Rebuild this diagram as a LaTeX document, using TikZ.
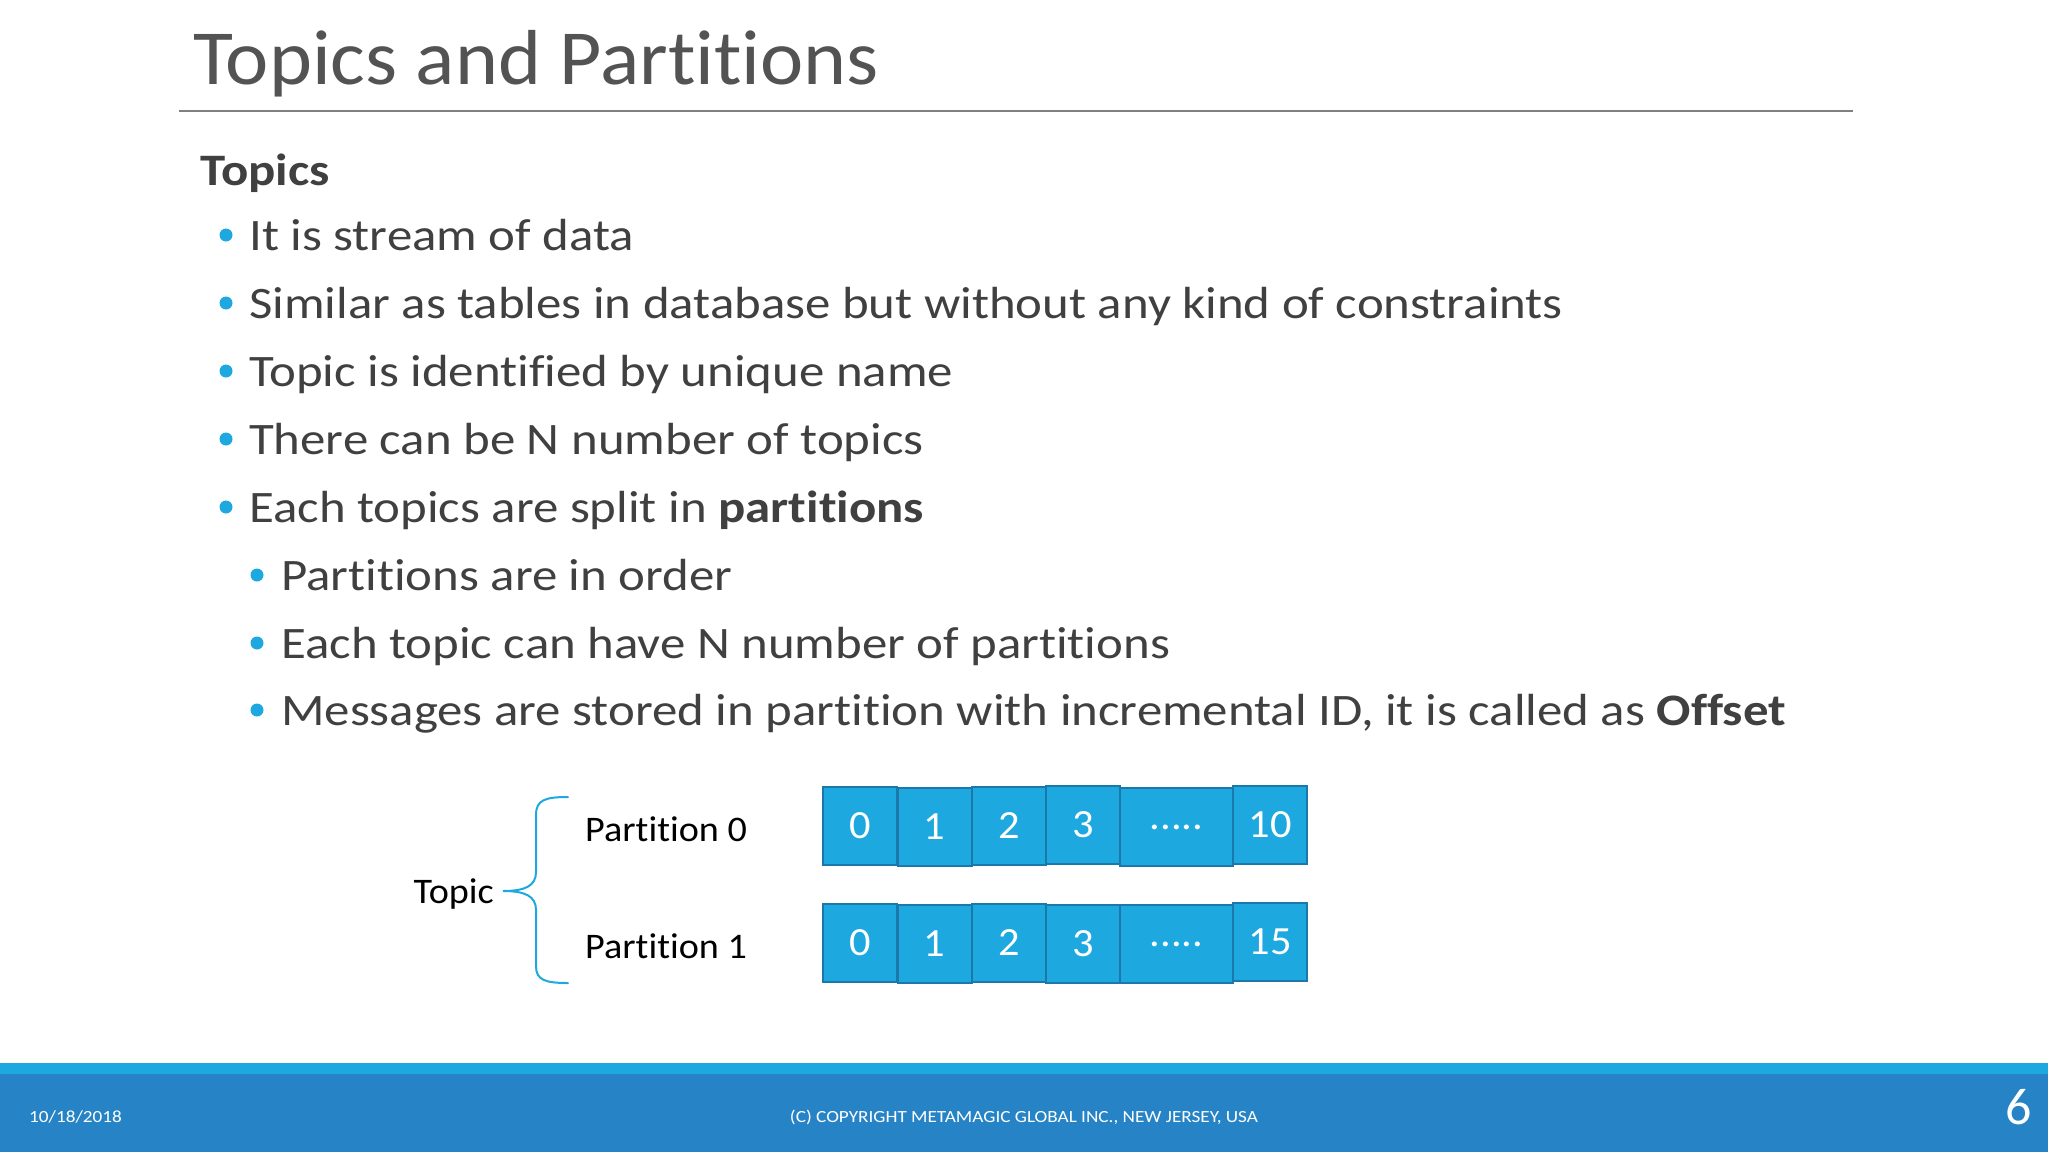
\documentclass[tikz,border=0pt]{standalone}
\usepackage{fontspec}
\setmainfont[Ligatures=NoCommon]{Carlito}
\newfontfamily\bodyf[FakeStretch=1.13,Ligatures=NoCommon]{Carlito}
\newfontfamily\titlef[FakeStretch=1.05,Ligatures=NoCommon]{Carlito}
\newfontfamily\labf[FakeStretch=1.06,Ligatures=NoCommon]{Carlito}
\newfontfamily\footf[FakeStretch=1.13]{Carlito}
\definecolor{cyanb}{RGB}{29,168,224}
\definecolor{boxb}{RGB}{26,120,170}
\definecolor{foot}{RGB}{38,132,198}
\definecolor{txt}{RGB}{64,64,64}
\tikzset{
  cell/.style={draw=boxb,line width=2pt,fill=cyanb,text=white,minimum height=78pt,inner sep=0pt,font=\labf\fontsize{40}{40}\selectfont},
  btext/.style={anchor=base west,text=txt,inner sep=0pt,font=\bodyf\fontsize{45}{50}\selectfont},
  dot/.style={circle,fill=cyanb,inner sep=0pt,minimum size=13pt},
  lab/.style={anchor=base west,inner sep=0pt,font=\labf\fontsize{36}{40}\selectfont}
}
\begin{document}
\begin{tikzpicture}[x=1pt,y=-1pt]
\useasboundingbox (0,0) rectangle (2048,1152);
\fill[white] (0,0) rectangle (2048,1152);
% title
\node[anchor=base west,inner sep=0pt,text=txt!90,font=\titlef\fontsize{78}{80}\selectfont] (title) at (193,84) {Topics and Partitions};
\draw[gray,line width=1.2pt] (179,111) -- (1853,111);
\node[anchor=base west,inner sep=0pt,text=txt,font=\bodyf\bfseries\fontsize{45}{50}\selectfont] (h) at (200,185) {Topics};
% bullets
\foreach \y/\t [count=\i] in {250/{It is stream of data},318/{Similar as tables in database but without any kind of constraints},386/{Topic is identified by unique name},454/{There can be N number of topics},522/{Each topics are split in \textbf{partitions}}}{
  \node[dot] (d\i) at (226,\y-15) {};
  \node[btext] (b\i) at (249,\y) {\t};
}
\foreach \y/\t [count=\i] in {590/{Partitions are in order},658/{Each topic can have N number of partitions},725/{Messages are stored in partition with incremental ID, it is called as \textbf{Offset}}}{
  \node[dot] (sd\i) at (257,\y-15) {};
  \node[btext] (s\i) at (281,\y) {\t};
}
% diagram
\node[lab] (p0) at (585,841) {Partition 0};
\node[lab] (p1) at (585,958) {Partition 1};
\node[lab,anchor=base east] (topic) at (494,903) {Topic};
\coordinate (bt) at (568,797);
\coordinate (bb) at (568,983);
\coordinate (tip) at (503,891);
\draw[cyanb,line width=2pt,line cap=round] (bt) .. controls (545,797) and (536,800) .. (536,815) -- (536,872) .. controls (536,886) and (525,891) .. (tip) .. controls (525,891) and (536,896) .. (536,910) -- (536,966) .. controls (536,980) and (545,983) .. (bb);
\foreach \r/\yc/\last in {0/826/10,1/943/15}{
  \node[cell,minimum width=74pt] (c\r a) at (860,\yc) {0};
  \node[cell,minimum width=74pt] (c\r b) at (934.5,\yc+1) {1};
  \node[cell,minimum width=74pt] (c\r c) at (1009,\yc) {2};
  \node[cell,minimum width=74pt] (c\r d) at (1083,\yc-1+2*\r) {3};
  \node[cell,minimum width=113pt] (c\r e) at (1176.5,\yc+1) {.....};
  \node[cell,minimum width=74pt] (c\r f) at (1270,\yc-1) {\last};
}
% footer
\fill[cyanb] (0,1063) rectangle (2048,1074);
\fill[foot] (0,1074) rectangle (2048,1152);
\node[anchor=base west,inner sep=0pt,text=white,font=\footf\fontsize{17}{18}\selectfont] (date) at (29,1122) {10/18/2018};
\node[anchor=base,inner sep=0pt,text=white,font=\footf\fontsize{17}{18}\selectfont] (copy) at (1024,1122) {(C) COPYRIGHT METAMAGIC GLOBAL INC., NEW JERSEY, USA};
\node[anchor=base,inner sep=0pt,text=white,font=\fontsize{52}{52}\selectfont] (num) at (2019,1124) {6};
\end{tikzpicture}
\end{document}
